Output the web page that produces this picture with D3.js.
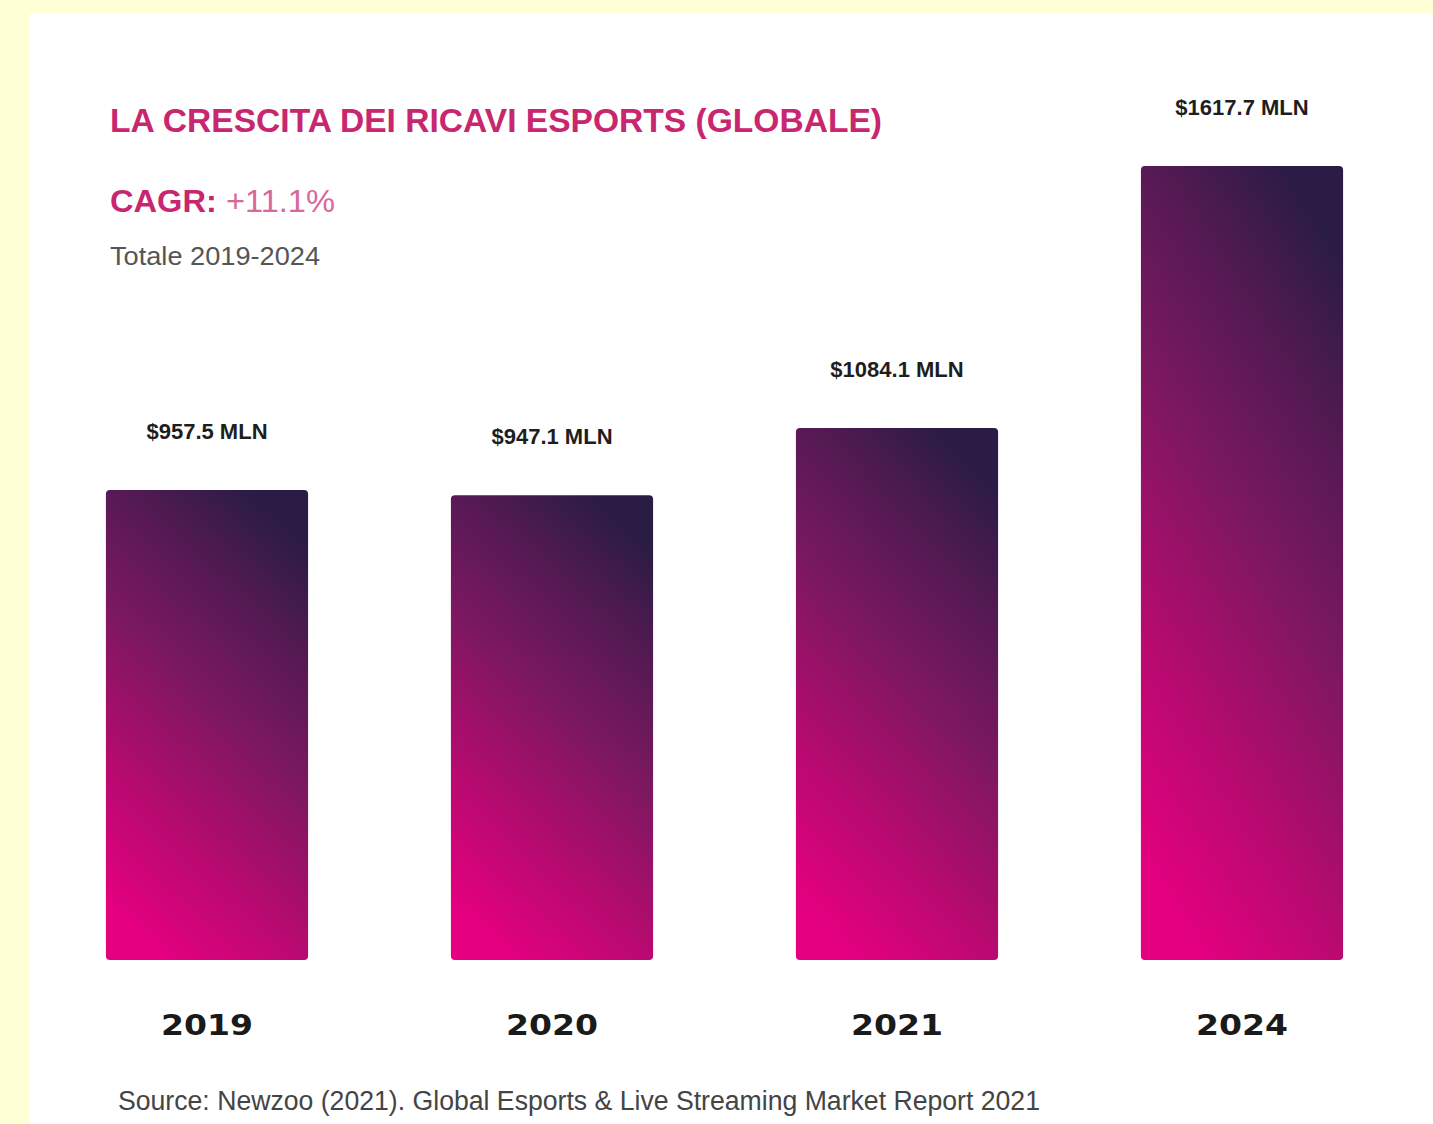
<!DOCTYPE html>
<html>
<head>
<meta charset="utf-8">
<script src="https://cdn.jsdelivr.net/npm/d3@7"></script>
<style>
  html, body { margin: 0; padding: 0; background: #ffffd6; }
  svg { display: block; }
</style>
</head>
<body>
<svg id="chart" width="1433" height="1124"></svg>
<script>
const years = ["2019", "2020", "2021", "2024"];
const revenues = [957.5, 947.1, 1084.1, 1617.7];
const valueLabels = ["$957.5 MLN", "$947.1 MLN", "$1084.1 MLN", "$1617.7 MLN"];

const data = years.map((y, i) => ({ year: y, value: revenues[i], label: valueLabels[i] }));

const svg = d3.select("#chart");
const W = 1433, H = 1124;

// white card on pale yellow
svg.append("rect").attr("width", W).attr("height", H).attr("fill", "#ffffd6");
svg.append("rect").attr("x", 30).attr("y", 14).attr("width", W - 30).attr("height", H - 14).attr("fill", "#ffffff");

const defs = svg.append("defs");
const grad = defs.append("linearGradient")
  .attr("id", "barGrad")
  .attr("x1", "30%").attr("y1", "100%")
  .attr("x2", "70%").attr("y2", "0%");
grad.append("stop").attr("offset", "0%").attr("stop-color", "#e4007f");
grad.append("stop").attr("offset", "25%").attr("stop-color", "#b80a70");
grad.append("stop").attr("offset", "55%").attr("stop-color", "#7c1860");
grad.append("stop").attr("offset", "80%").attr("stop-color", "#521a52");
grad.append("stop").attr("offset", "100%").attr("stop-color", "#2b1c45");

const x = d3.scaleBand()
  .domain(years)
  .range([34.5, 1414.5])
  .paddingInner(0.414)
  .paddingOuter(0.207);

const y = d3.scaleLinear()
  .domain([0, d3.max(revenues)])
  .range([960, 166]);

// bars
svg.selectAll("rect.bar")
  .data(data)
  .join("rect")
  .attr("class", "bar")
  .attr("x", d => x(d.year))
  .attr("y", d => y(d.value))
  .attr("width", x.bandwidth())
  .attr("height", d => y(0) - y(d.value))
  .attr("rx", 4)
  .attr("fill", "url(#barGrad)");

// value labels
svg.selectAll("text.val")
  .data(data)
  .join("text")
  .attr("class", "val")
  .attr("x", d => x(d.year) + x.bandwidth() / 2)
  .attr("y", d => y(d.value) - 51)
  .attr("text-anchor", "middle")
  .attr("font-family", "'Liberation Sans', Arial, sans-serif")
  .attr("font-weight", "bold")
  .attr("font-size", 22)
  .attr("fill", "#1e1e1e")
  .text(d => d.label);

// year labels
svg.selectAll("text.year")
  .data(data)
  .join("text")
  .attr("class", "year")
  .attr("x", d => x(d.year) + x.bandwidth() / 2)
  .attr("y", 1035)
  .attr("text-anchor", "middle")
  .attr("font-family", "'DejaVu Sans', sans-serif")
  .attr("font-weight", "bold")
  .attr("font-size", 29)
  .attr("textLength", 92)
  .attr("lengthAdjust", "spacingAndGlyphs")
  .attr("fill", "#1a1a1a")
  .text(d => d.year);

// title block
svg.append("text")
  .attr("x", 110).attr("y", 132)
  .attr("font-family", "'Liberation Sans', Arial, sans-serif")
  .attr("font-weight", "bold")
  .attr("font-size", 34)
  .attr("textLength", 772)
  .attr("lengthAdjust", "spacingAndGlyphs")
  .attr("fill", "#c8266f")
  .text("LA CRESCITA DEI RICAVI ESPORTS (GLOBALE)");

const cagr = svg.append("text")
  .attr("x", 110).attr("y", 212)
  .attr("font-family", "'Liberation Sans', Arial, sans-serif")
  .attr("font-size", 32)
  .attr("textLength", 225)
  .attr("lengthAdjust", "spacingAndGlyphs");
cagr.append("tspan").attr("font-weight", "bold").attr("fill", "#c8266f").text("CAGR: ");
cagr.append("tspan").attr("fill", "#d9679b").text("+11.1%");

svg.append("text")
  .attr("x", 110).attr("y", 265)
  .attr("font-family", "'Liberation Sans', Arial, sans-serif")
  .attr("font-size", 25)
  .attr("textLength", 210)
  .attr("lengthAdjust", "spacingAndGlyphs")
  .attr("fill", "#555555")
  .text("Totale 2019-2024");

svg.append("text")
  .attr("x", 118).attr("y", 1110)
  .attr("font-family", "'Liberation Sans', Arial, sans-serif")
  .attr("font-size", 27)
  .attr("textLength", 922)
  .attr("lengthAdjust", "spacingAndGlyphs")
  .attr("fill", "#444444")
  .text("Source: Newzoo (2021). Global Esports & Live Streaming Market Report 2021");
</script>
</body>
</html>
